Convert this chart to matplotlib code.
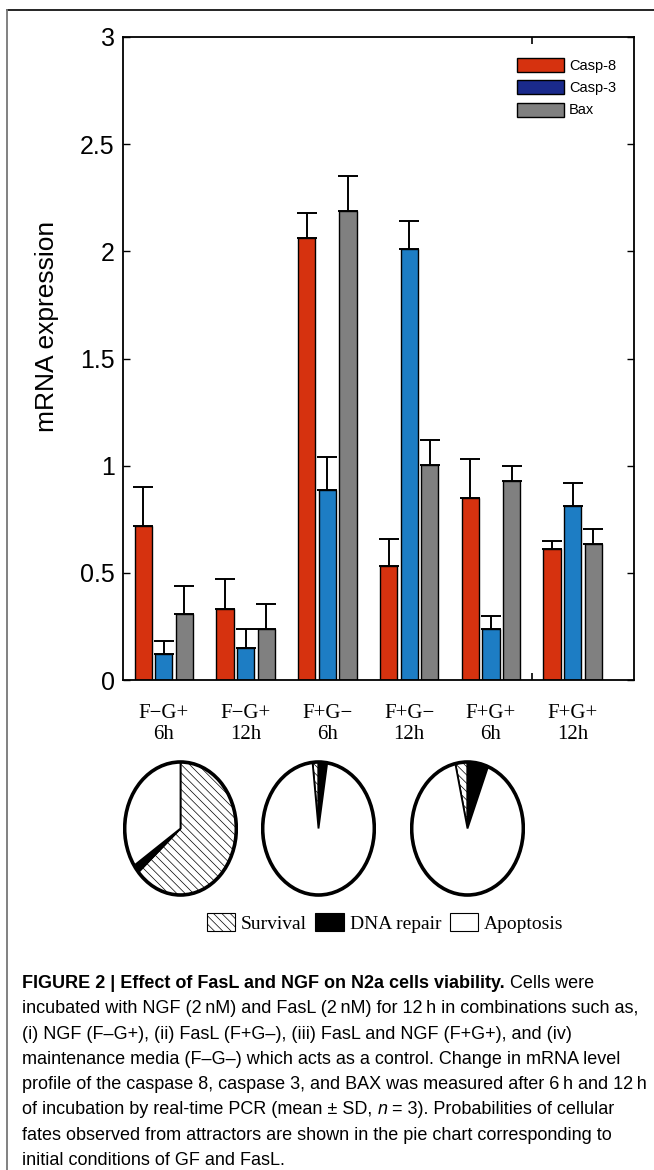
"""Recreation of FIGURE 2: mRNA expression bars plus attractor pie charts."""

import matplotlib
matplotlib.use("Agg")
import matplotlib.pyplot as plt
import numpy as np
from matplotlib.lines import Line2D
from matplotlib.patches import Ellipse, Patch

# ---- data -----------------------------------------------------------------
groups = ["F\u2212G+\n6h", "F\u2212G+\n12h", "F+G\u2212\n6h",
          "F+G\u2212\n12h", "F+G+\n6h", "F+G+\n12h"]
casp8 = [0.72, 0.33, 2.06, 0.53, 0.85, 0.61]
casp8_err = [0.18, 0.14, 0.12, 0.13, 0.18, 0.04]
casp3 = [0.12, 0.15, 0.885, 2.01, 0.24, 0.81]
casp3_err = [0.06, 0.09, 0.155, 0.13, 0.06, 0.11]
bax = [0.31, 0.24, 2.19, 1.005, 0.93, 0.635]
bax_err = [0.13, 0.115, 0.16, 0.115, 0.07, 0.07]

fates = ["Survival", "DNA repair", "Apoptosis"]
pie_survival = [0.636, 0.017, 0.035]
pie_dna = [0.020, 0.025, 0.060]
pie_apoptosis = [0.344, 0.958, 0.905]

# caption: each line is a list of (text, style) pieces
caption_lines = [
    [("FIGURE 2 | Effect of FasL and NGF on N2a cells viability.", "bold"),
     (" Cells were", "normal")],
    [("incubated with NGF (2\u2009nM) and FasL (2\u2009nM) for 12\u2009h in "
      "combinations such as,", "normal")],
    [("(i) NGF (F\u2013G+), (ii) FasL (F+G\u2013), (iii) FasL and NGF "
      "(F+G+), and (iv)", "normal")],
    [("maintenance media (F\u2013G\u2013) which acts as a control. Change in "
      "mRNA level", "normal")],
    [("profile of the caspase 8, caspase 3, and BAX was measured after "
      "6\u2009h and 12\u2009h", "normal")],
    [("of incubation by real-time PCR (mean \u00b1 SD, ", "normal"),
     ("n", "italic"), (" = 3). Probabilities of cellular", "normal")],
    [("fates observed from attractors are shown in the pie chart "
      "corresponding to", "normal")],
    [("initial conditions of GF and FasL.", "normal")],
]

RED = "#d6320f"
BLUE = "#1d7dc4"
NAVY = "#1a2a8c"
GREY = "#808080"

plt.rcParams["font.family"] = ["Liberation Sans", "DejaVu Sans"]
plt.rcParams["hatch.linewidth"] = 0.5

W, H = 654, 1170
fig = plt.figure(figsize=(W / 100, H / 100), dpi=100)


def fx(px):
    return px / W


def fy(py):
    return 1 - py / H


# ---- bar chart --------------------------------------------------------------
ax = fig.add_axes([fx(123), fy(680), fx(634 - 123), (680 - 37) / H])
x = np.arange(1, len(groups) + 1)
off, bw = 0.252, 0.21
zeros = np.zeros(len(groups))
ekw = dict(ecolor="black", elinewidth=1.4, capthick=1.4)
for dx, vals, err, col in [(-off, casp8, casp8_err, RED),
                           (0.0, casp3, casp3_err, BLUE),
                           (off, bax, bax_err, GREY)]:
    ax.bar(x + dx, vals, width=bw, color=col, edgecolor="black",
           linewidth=1.0, yerr=[zeros, err], capsize=7, error_kw=ekw,
           zorder=2)

ax.set_xlim(0.5, 6.75)
ax.set_ylim(0, 3)
ax.set_yticks(np.arange(0, 3.01, 0.5))
ax.set_yticklabels(["0", "0.5", "1", "1.5", "2", "2.5", "3"], fontsize=18)
ax.set_xticks(x)
ax.set_xticklabels(groups, fontsize=15, family=["Liberation Serif"],
                   linespacing=1.15)
ax.set_xticks([5.5], minor=True)
ax.tick_params(axis="x", which="major", length=0, pad=17)
ax.tick_params(axis="x", which="minor", direction="in", length=5,
               top=True, width=1.2)
ax.tick_params(axis="y", direction="in", length=5, right=True, width=1.0,
               pad=6)
ax.set_ylabel("mRNA expression", fontsize=19)
ax.yaxis.set_label_coords(-0.125, 0.55)
for s in ax.spines.values():
    s.set_linewidth(1.3)

leg_handles = [Patch(facecolor=c, edgecolor="black", linewidth=1.0)
               for c in (RED, NAVY, GREY)]
fig.legend(leg_handles, ["Casp-8", "Casp-3", "Bax"], loc="upper left",
           bbox_to_anchor=(fx(517), fy(58)), frameon=False, fontsize=10.5,
           handlelength=3.2, handleheight=1.1, handletextpad=0.35,
           labelspacing=0.5, borderpad=0, borderaxespad=0)

# ---- pie charts -------------------------------------------------------------
hatches = ["\\\\\\\\", None, None]
pie_cols = ["white", "black", "white"]
for i, cx in enumerate([180.5, 318.5, 467.5]):
    pax = fig.add_axes([fx(cx - 57.5), fy(897), fx(115), 137 / H])
    fracs = [pie_survival[i], pie_dna[i], pie_apoptosis[i]]
    wedges, _ = pax.pie(fracs, colors=pie_cols, counterclock=False,
                        startangle=90 + 360 * pie_survival[i] * (i > 0),
                        wedgeprops=dict(edgecolor="black", linewidth=1.3))
    for w, h in zip(wedges, hatches):
        if h:
            w.set_hatch(h)
    pax.add_patch(Ellipse((0, 0), 2, 2, fill=False, edgecolor="black",
                          linewidth=2.6))
    pax.set_aspect("auto")
    pax.set_xlim(-1.03, 1.03)
    pax.set_ylim(-1.03, 1.03)
    pax.axis("off")

fate_handles = [Patch(facecolor="white", edgecolor="black", hatch="\\\\\\\\",
                      linewidth=0.8),
                Patch(facecolor="black", edgecolor="black", linewidth=0.8),
                Patch(facecolor="white", edgecolor="black", linewidth=0.8)]
fig.legend(fate_handles, fates, loc="center", bbox_to_anchor=(fx(385), fy(923)),
           ncol=3, frameon=False, prop=dict(family="Liberation Serif", size=14),
           handlelength=1.45, handleheight=1.0, handletextpad=0.3,
           columnspacing=0.45)

# ---- frame lines -------------------------------------------------------------
fig.add_artist(Line2D([fx(7), 1], [fy(10), fy(10)], color="black", lw=1.2))
fig.add_artist(Line2D([fx(7), fx(7)], [0, fy(10)], color="#777777", lw=1.3))

# ---- caption ----------------------------------------------------------------
cap_size = 13
base = 988
step = 25.3
renderer = fig.canvas.get_renderer()
for k, pieces in enumerate(caption_lines):
    xpos = 22
    for text, style in pieces:
        t = fig.text(fx(xpos), fy(base + k * step), text, fontsize=cap_size,
                     fontweight="bold" if style == "bold" else "normal",
                     fontstyle="italic" if style == "italic" else "normal",
                     va="baseline", ha="left")
        xpos = t.get_window_extent(renderer=renderer).x1

fig.savefig("out.png", dpi=100)
